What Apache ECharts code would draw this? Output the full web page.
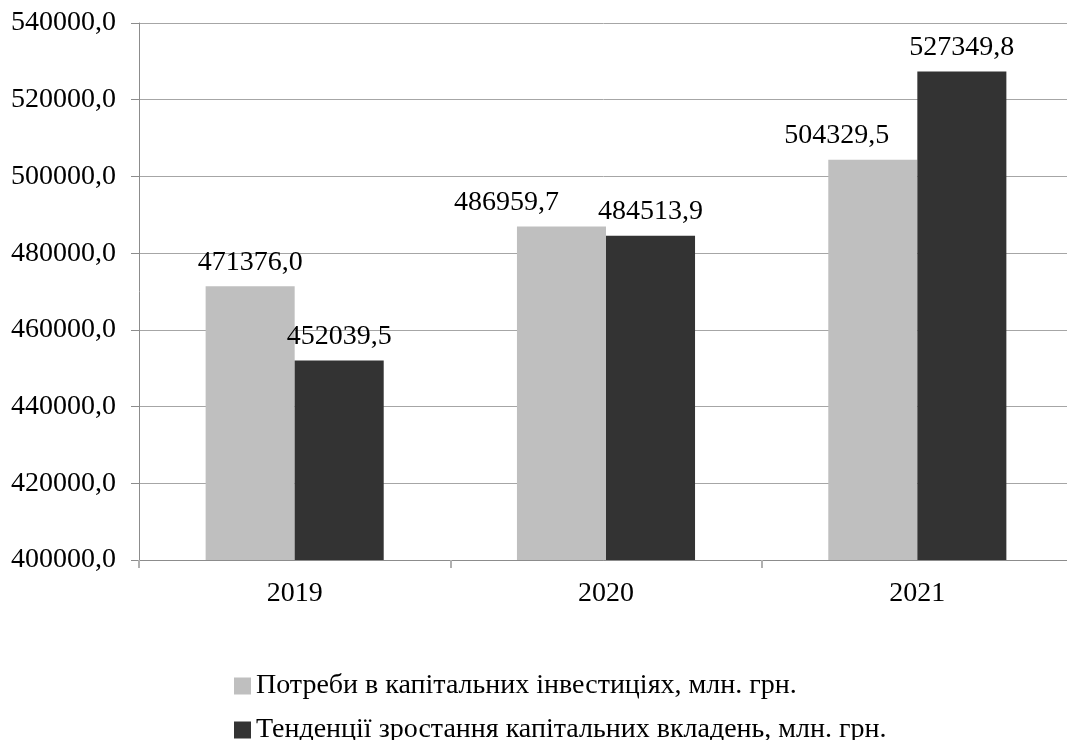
<!DOCTYPE html>
<html>
<head>
<meta charset="utf-8">
<script src="https://cdn.jsdelivr.net/npm/echarts@6/dist/echarts.min.js"></script>
<style>
  html, body { margin: 0; padding: 0; background: #fff; }
  .main { width: 1067px; height: 740px; }
</style>
</head>
<body>
<div class="main"></div>
<script>
// дані
var years = ['2019', '2020', '2021'];
var needs = [471376.0, 486959.7, 504329.5];
var trend = [452039.5, 484513.9, 527349.8];
var seriesNames = [
  'Потреби в капітальних інвестиціях, млн. грн.',
  'Тенденції зростання капітальних вкладень, млн. грн.'
];

var font = '"Liberation Serif", "Times New Roman", serif';
function fmt(v) {
  return Number(v).toFixed(1).replace('.', ',');
}

// легенда: по одному пункту в рядку
function legendRow(name, top) {
  return {
    left: 229,
    top: top,
    itemWidth: 17,
    itemHeight: 17,
    icon: 'rect',
    textStyle: { fontFamily: font, fontSize: 28, color: '#000' },
    data: [name]
  };
}

var labelStyle = {
  show: true, position: 'top', distance: 10,
  fontFamily: font, fontSize: 28, color: '#000',
  formatter: function (p) { return fmt(p.value); }
};

// підписи світлих стовпців у 2020 і 2021 зсунуті ліворуч, як в оригіналі
var needsShift = [0, -55, -36];
var needsData = needs.map(function (v, i) {
  return { value: v, label: { offset: [needsShift[i], 0] } };
});

var myChart = echarts.init(document.querySelector('.main'));
myChart.setOption({
  animation: false,
  textStyle: { fontFamily: font },
  grid: {
    left: 139, width: 934, top: 23, height: 537,
    outerBoundsMode: 'none'
  },
  legend: [
    legendRow(seriesNames[0], 667),
    legendRow(seriesNames[1], 711)
  ],
  xAxis: {
    type: 'category',
    data: years,
    axisLine: { lineStyle: { color: '#8c8c8c' } },
    axisTick: { show: true, length: 8, lineStyle: { color: '#b0b0b0', width: 2 } },
    axisLabel: { fontFamily: font, fontSize: 28, color: '#000', margin: 20 }
  },
  yAxis: {
    type: 'value',
    min: 400000,
    max: 540000,
    interval: 20000,
    axisLine: { show: true, lineStyle: { color: '#8c8c8c' } },
    axisTick: { show: true, length: 8, lineStyle: { color: '#8c8c8c' } },
    splitLine: { lineStyle: { color: '#a6a6a6' } },
    axisLabel: {
      fontFamily: font, fontSize: 28, color: '#000', margin: 23,
      formatter: fmt
    }
  },
  series: [
    {
      name: seriesNames[0],
      type: 'bar',
      data: needsData,
      barGap: '0%',
      barCategoryGap: '42.8%',
      itemStyle: { color: '#bfbfbf' },
      label: labelStyle
    },
    {
      name: seriesNames[1],
      type: 'bar',
      data: trend,
      itemStyle: { color: '#333333' },
      label: labelStyle
    }
  ]
});
</script>
</body>
</html>
